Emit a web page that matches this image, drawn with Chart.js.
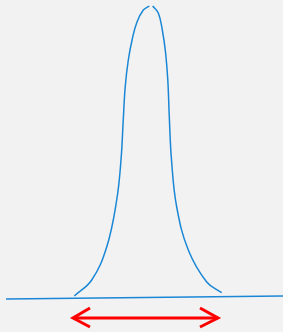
<!DOCTYPE html>
<html><head><meta charset="utf-8">
<script src="https://cdn.jsdelivr.net/npm/chart.js@4/dist/chart.umd.min.js"></script>
<style>html,body{margin:0;padding:0;background:#f2f2f2;overflow:hidden}#w{width:283px;height:332px}</style>
</head><body><div id="w"><canvas id="c"></canvas></div>
<script>
// Bell curve, left half (x position, height above bottom)
const curveX = [74.3, 91.7, 106.7, 116.7, 121, 123.3, 125.2, 128.3, 132.5, 137, 143.3, 149.3];
const curveY = [36, 52, 85, 132, 172, 213, 245, 272, 294, 310, 322, 326];
// Bell curve, right half
const curveRX = [152.7, 158.3, 162.3, 165.5, 167.8, 169.3, 171.5, 176.7, 188.3, 206.7, 221.7];
const curveRY = [326, 319, 302, 280, 252, 215, 172, 125, 82, 50, 39.3];
// Baseline
const baseX = [6, 283];
const baseY = [33, 36];
// Red double arrow (shaft and heads)
const shaftX = [73, 218];
const shaftY = [14, 14];
const headLX = [90, 73, 90];
const headLY = [24, 14, 5];
const headRX = [200, 218, 200];
const headRY = [24, 14, 5];

const pts = (xs, ys) => xs.map((x, i) => ({x, y: ys[i]}));
const blue = '#1a87d6', red = '#ff0000';
const line = (data, color, w, extra) => Object.assign({data, borderColor: color, borderWidth: w, pointRadius: 0, fill: false, tension: 0}, extra || {});

new Chart(document.getElementById('c'), {
  type: 'line',
  data: { datasets: [
    line(pts(curveX, curveY), blue, 1.5, {tension: 0.4}),
    line(pts(curveRX, curveRY), blue, 1.5, {tension: 0.4}),
    line(pts(baseX, baseY), blue, 1.5),
    line(pts(shaftX, shaftY), red, 3),
    line(pts(headLX, headLY), red, 3, {borderJoinStyle: 'miter'}),
    line(pts(headRX, headRY), red, 3, {borderJoinStyle: 'miter'})
  ]},
  options: {
    responsive: true, maintainAspectRatio: false, animation: false,
    layout: {padding: 0},
    plugins: {legend: {display: false}, tooltip: {enabled: false}},
    scales: {
      x: {type: 'linear', min: 0, max: 283, display: false},
      y: {type: 'linear', min: 0, max: 332, display: false}
    },
    datasets: {line: {clip: false}}
  }
});
</script></body></html>
